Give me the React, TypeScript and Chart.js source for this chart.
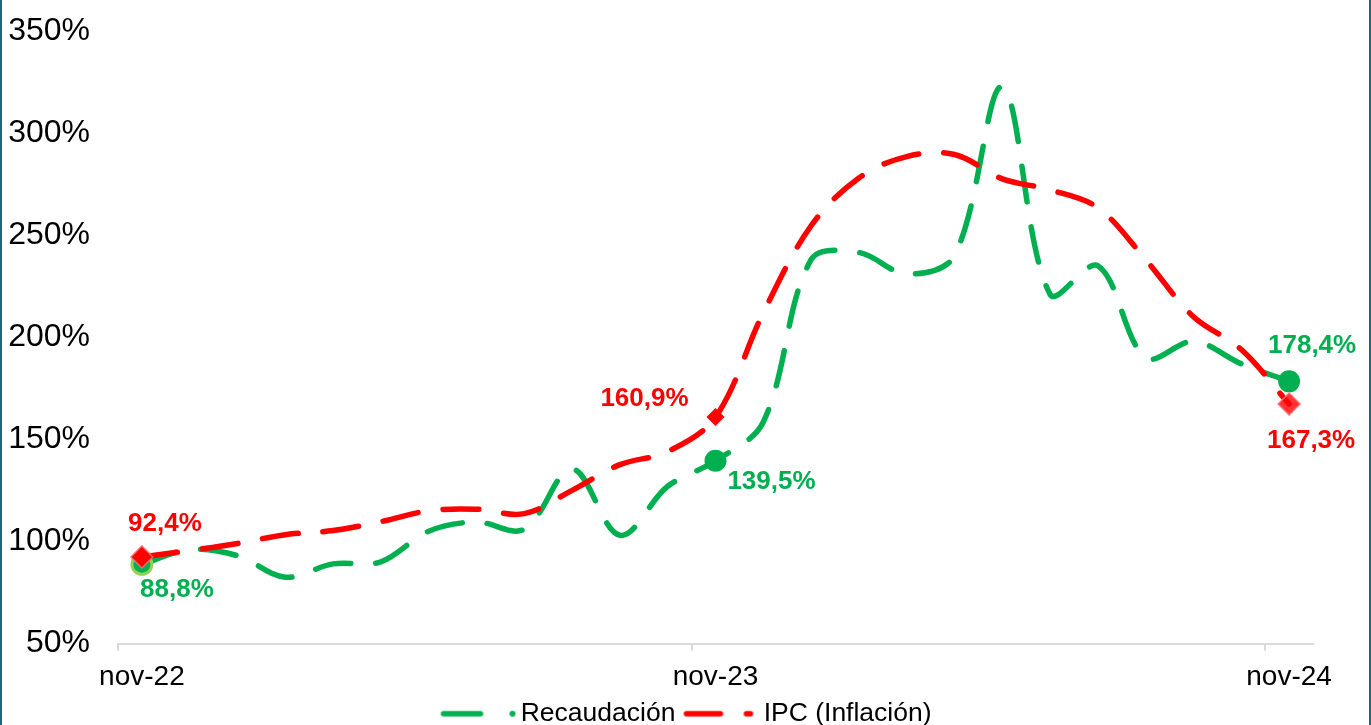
import { useEffect, useRef } from 'react';
import { Chart, registerables } from 'chart.js';

Chart.register(...registerables);

const months = [
  'nov-22', 'dic-22', 'ene-23', 'feb-23', 'mar-23', 'abr-23', 'may-23', 'jun-23', 'jul-23',
  'ago-23', 'sep-23', 'oct-23', 'nov-23', 'dic-23', 'ene-24', 'feb-24', 'mar-24', 'abr-24',
  'may-24', 'jun-24', 'jul-24', 'ago-24', 'sep-24', 'oct-24', 'nov-24',
];

const recaudacion = [
  88.8, 96, 93, 82.5, 89, 90, 105, 109.5, 106, 135.5, 103, 127,
  139.5, 158.5, 238, 241.5, 231, 240, 322.5, 221, 235, 190, 198, 187, 178.4,
];

const ipc = [
  92.4, 95.5, 99, 103.3, 105.3, 109.7, 115, 115.8, 113.6, 125, 137.6, 144,
  160.9, 212, 254.6, 278, 288.5, 289.5, 277.6, 272.2, 263.4, 238, 210, 194, 167.3,
];

const seriesNames = ['Recaudación', 'IPC (Inflación)'];
const yMin = 50;
const yMax = 350;
const yStep = 50;
const labeledIdx = [0, 12, 24];

const GREEN = '#00B050';
const RED = '#FF0000';
const FONT = '"Liberation Sans", Arial, Helvetica, sans-serif';

// label offsets (px) relative to point, per series, per labeled index
const labelOffsets = [
  [[35, 26], [56, 21], [23, -36]],
  [[23, -33], [-71, -18], [22, 37]],
];

const fmt = (v: number) => v.toFixed(1).replace('.', ',') + '%';

function makeSample(color: string, kind: 'dot' | 'dash') {
  const c = document.createElement('canvas');
  c.width = 86;
  c.height = 12;
  const g = c.getContext('2d')!;
  g.strokeStyle = color;
  g.fillStyle = color;
  g.lineWidth = 5.5;
  g.lineCap = 'round';
  g.beginPath();
  if (kind === 'dot') {
    g.moveTo(13, 6);
    g.lineTo(50, 6);
    g.stroke();
    g.beginPath();
    g.arc(82, 6, 3, 0, Math.PI * 2);
    g.fill();
  } else {
    g.moveTo(13, 6);
    g.lineTo(47, 6);
    g.stroke();
    g.beginPath();
    g.moveTo(73, 6);
    g.lineTo(77, 6);
    g.stroke();
  }
  return c;
}

const valueLabels = {
  id: 'valueLabels',
  afterDatasetsDraw(chart: any) {
    const ctx = chart.ctx;
    const colors = [GREEN, RED];
    chart.data.datasets.forEach((ds: any, di: number) => {
      const meta = chart.getDatasetMeta(di);
      labeledIdx.forEach((idx, k) => {
        const el = meta.data[idx];
        if (!el) return;
        const [dx, dy] = labelOffsets[di][k];
        ctx.save();
        ctx.font = `bold 26px ${FONT}`;
        ctx.fillStyle = colors[di];
        ctx.textAlign = 'center';
        ctx.textBaseline = 'middle';
        ctx.fillText(fmt(ds.data[idx]), el.x + dx, el.y + dy);
        ctx.restore();
      });
    });
  },
};

export default function App() {
  const ref = useRef<HTMLCanvasElement | null>(null);

  useEffect(() => {
    if (!ref.current) return;
    const samples = [makeSample(GREEN, 'dot'), makeSample(RED, 'dash')];
    const isLab = (i: number) => labeledIdx.includes(i);
    const chart = new Chart(ref.current, {
      type: 'line',
      data: {
        labels: months,
        datasets: [
          {
            label: seriesNames[0],
            data: recaudacion,
            borderColor: GREEN,
            borderWidth: 5.5,
            borderDash: [36, 25],
            borderCapStyle: 'round',
            borderJoinStyle: 'round',
            tension: 0.35,
            fill: false,
            order: 1,
            pointStyle: 'circle',
            pointRadius: (c: any) => (isLab(c.dataIndex) ? (c.dataIndex === 0 ? 10 : 11) : 0),
            pointBackgroundColor: GREEN,
            pointBorderColor: (c: any) => (c.dataIndex === 0 ? '#92D050' : GREEN),
            pointBorderWidth: (c: any) => (c.dataIndex === 0 ? 3 : 0),
            pointHoverRadius: 0,
          },
          {
            label: seriesNames[1],
            data: ipc,
            borderColor: RED,
            borderWidth: 5.5,
            borderDash: [36, 25],
            borderCapStyle: 'round',
            borderJoinStyle: 'round',
            tension: 0.35,
            fill: false,
            order: 0,
            pointStyle: 'rectRot',
            pointRadius: (c: any) => (isLab(c.dataIndex) ? (c.dataIndex === 12 ? 9 : 11) : 0),
            pointBackgroundColor: (c: any) => (c.dataIndex === 24 ? 'rgba(255,0,0,0.8)' : RED),
            pointBorderColor: 'rgba(255,110,110,0.9)',
            pointBorderWidth: (c: any) => (c.dataIndex === 12 ? 0 : 1.5),
            pointHoverRadius: 0,
          },
        ],
      },
      options: {
        responsive: false,
        animation: false,
        devicePixelRatio: 1,
        layout: { padding: { top: 31, right: 0, left: 0, bottom: 0 } },
        plugins: {
          tooltip: { enabled: false },
          legend: {
            display: true,
            position: 'bottom',
            labels: {
              usePointStyle: true,
              pointStyleWidth: 68,
              padding: 7,
              color: '#000',
              font: { family: FONT, size: 26.5 },
              generateLabels: (ch: any) =>
                ch.data.datasets.map((ds: any, i: number) => ({
                  text: ds.label,
                  pointStyle: samples[i],
                  fillStyle: 'rgba(0,0,0,0)',
                  strokeStyle: 'rgba(0,0,0,0)',
                  lineWidth: 0,
                  hidden: false,
                  datasetIndex: i,
                  fontColor: '#000',
                })),
            },
          },
        },
        scales: {
          x: {
            type: 'category',
            offset: true,
            grid: {
              offset: true,
              drawOnChartArea: false,
              drawTicks: true,
              tickLength: 7,
              lineWidth: 2,
              color: (c: any) => (c.index % 12 === 0 ? '#D9D9D9' : 'rgba(0,0,0,0)'),
            },
            border: { display: true, color: '#D9D9D9', width: 2 },
            ticks: {
              autoSkip: false,
              maxRotation: 0,
              minRotation: 0,
              padding: 10,
              color: '#000',
              font: { family: FONT, size: 28 },
              callback: (_v: any, i: number) => (i % 12 === 0 ? months[i] : ''),
            },
            afterFit: (s: any) => {
              s.height = 50;
              s.paddingLeft = 0;
              s.paddingRight = 0;
            },
          },
          y: {
            min: yMin,
            max: yMax,
            grid: { display: false, drawTicks: false },
            border: { display: false },
            ticks: {
              stepSize: yStep,
              padding: 28,
              color: '#000',
              font: { family: FONT, size: 32 },
              callback: (v: any) => v + '%',
            },
            afterFit: (s: any) => {
              s.width = 118;
              s.paddingTop = 0;
              s.paddingBottom = 0;
            },
          },
          yRight: {
            position: 'right',
            display: true,
            grid: { display: false, drawTicks: false },
            border: { display: false },
            ticks: { display: false },
            afterFit: (s: any) => {
              s.width = 58;
              s.paddingTop = 0;
              s.paddingBottom = 0;
            },
          },
        },
      },
      plugins: [valueLabels],
    } as any);
    return () => chart.destroy();
  }, []);

  return (
    <div
      style={{
        position: 'fixed',
        left: 0,
        top: 0,
        width: 1371,
        height: 725,
        overflow: 'hidden',
        background: '#fff',
      }}
    >
      <canvas ref={ref} width={1371} height={737} style={{ display: 'block' }} />
      <div style={{ position: 'absolute', left: 0, top: 0, width: 2, height: 725, background: '#17697d' }} />
      <div style={{ position: 'absolute', left: 1369, top: 0, width: 2, height: 725, background: '#17697d' }} />
    </div>
  );
}
